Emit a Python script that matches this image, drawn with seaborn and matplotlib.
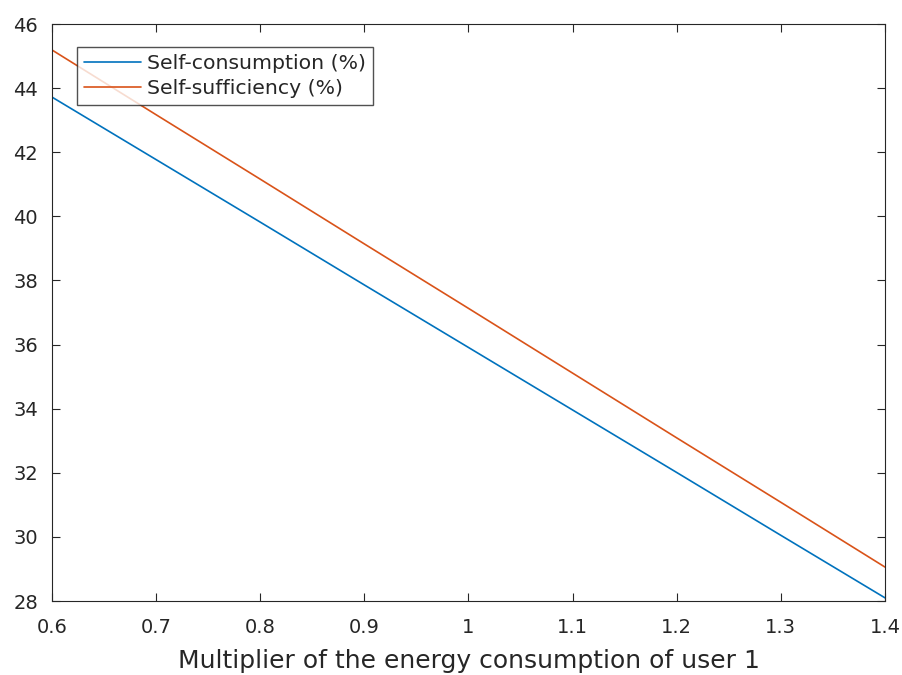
import pandas as pd
import matplotlib.pyplot as plt
import seaborn as sns

# data
multiplier = [0.6, 0.7, 0.8, 0.9, 1.0, 1.1, 1.2, 1.3, 1.4]
self_consumption = [43.72, 41.77, 39.82, 37.86, 35.91, 33.96, 32.01, 30.05, 28.10]
self_sufficiency = [45.19, 43.17, 41.16, 39.14, 37.13, 35.11, 33.09, 31.08, 29.06]
series_names = ['Self-consumption (%)', 'Self-sufficiency (%)']

df = pd.DataFrame({
    'x': multiplier * 2,
    'y': self_consumption + self_sufficiency,
    'series': [series_names[0]] * len(multiplier) + [series_names[1]] * len(multiplier),
})

sns.set_style('ticks')
plt.rcParams['font.family'] = ['DejaVu Sans']
text_col = '#262626'

fig = plt.figure(figsize=(9.03, 6.75), dpi=100)
ax = fig.add_axes([0.0576, 0.1096, 0.9224, 0.8548])

sns.lineplot(data=df, x='x', y='y', hue='series',
             palette=['#0072BD', '#D95319'], linewidth=1.2, ax=ax)

ax.set_xlim(0.6, 1.4)
ax.set_ylim(28, 46)
ax.set_xticks([0.6, 0.7, 0.8, 0.9, 1.0, 1.1, 1.2, 1.3, 1.4])
ax.set_xticklabels(['0.6', '0.7', '0.8', '0.9', '1', '1.1', '1.2', '1.3', '1.4'])
ax.set_yticks(range(28, 47, 2))
ax.tick_params(direction='in', top=True, right=True, length=6, width=0.8,
               labelsize=14, colors=text_col)
ax.tick_params(axis='x', pad=12)
ax.tick_params(axis='y', pad=10)
for s in ax.spines.values():
    s.set_color(text_col)
    s.set_linewidth(0.8)
ax.set_xlabel('Multiplier of the energy consumption of user 1', fontsize=18,
              color=text_col, labelpad=9)
ax.set_ylabel('')

leg = ax.legend(loc='upper left', bbox_to_anchor=(0.03, 0.96), fontsize=14.7,
                frameon=True, fancybox=False, edgecolor=text_col,
                handlelength=2.8, handletextpad=0.3, borderaxespad=0,
                borderpad=0.35, labelspacing=0.28)
leg.get_frame().set_linewidth(1.0)
for t in leg.get_texts():
    t.set_color(text_col)

fig.savefig('out.png', dpi=100)
